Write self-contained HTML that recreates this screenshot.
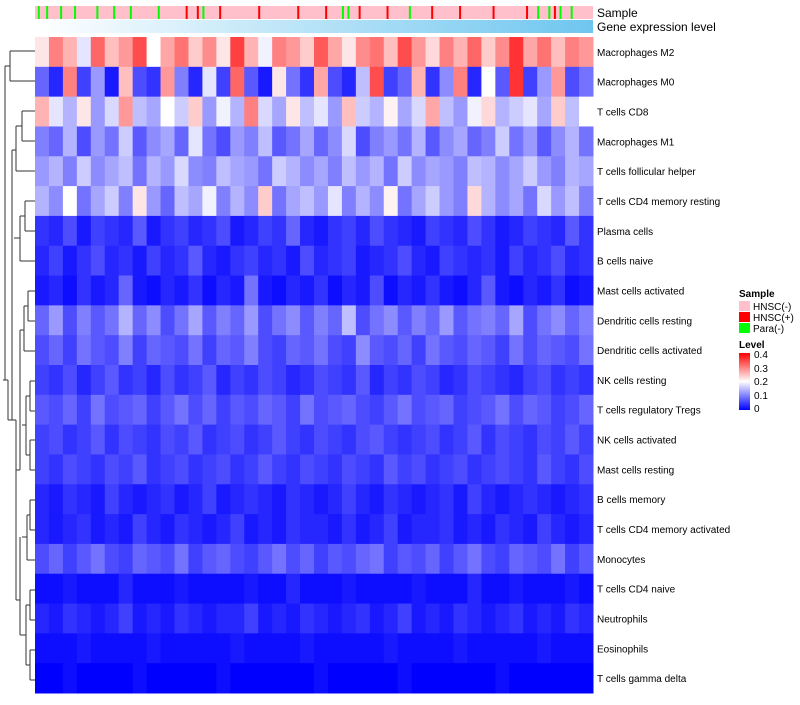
<!DOCTYPE html>
<html><head><meta charset="utf-8"><style>
body{margin:0;background:#fff;font-family:"Liberation Sans",sans-serif}
svg text{font-family:"Liberation Sans",sans-serif}
</style></head><body>
<svg id="chart" width="800" height="700" xmlns="http://www.w3.org/2000/svg">
<defs>
<linearGradient id="geneGrad" x1="0" x2="1"><stop offset="0" stop-color="#ffffff"/><stop offset="1" stop-color="#6ec6ef"/></linearGradient>
<linearGradient id="levelGrad" x1="0" y1="1" x2="0" y2="0"><stop offset="0" stop-color="#0000ff"/><stop offset="0.5" stop-color="#ffffff"/><stop offset="1" stop-color="#ff0000"/></linearGradient>
</defs>
<g id="dendro" stroke="#333" stroke-width="1" fill="none">
<path d="M10 51 H35 M10 81 H35 M10 51 V81 M5 66 H10 M5 66 V380 M3 380 H5"/>
<path d="M22 111 H35 M22 141 H35 M22 111 V141 M16 126 H22 M16 171 H35 M16 126 V171 M12 150 H16"/>
<path d="M25 201 H35 M25 231 H35 M25 201 V231 M20 216 H25 M20 261 H35 M20 216 V261 M14 238 H20 M12 150 V420 M8 420 H12 M8 420 V380 M5 380 H8"/>
<path d="M28 291 H35 M28 321 H35 M28 291 V321 M24 306 H28 M24 351 H35 M24 306 V351 M20 330 H24 M20 330 V470 M16 470 H20 M16 420 V600 M12 420 H16"/>
<path d="M30 381 H35 M30 411 H35 M30 381 V411 M26 396 H30 M30 440 H35 M30 470 H35 M30 440 V470 M26 455 H30 M26 396 V455 M22 425 H26"/>
<path d="M30 500 H35 M30 530 H35 M30 500 V530 M27 515 H30 M27 560 H35 M27 515 V560 M22 537 H27"/>
<path d="M30 590 H35 M30 620 H35 M30 590 V620 M26 605 H30 M30 650 H35 M30 680 H35 M30 650 V680 M26 665 H30 M26 605 V665 M20 635 H26 M20 635 V537 M16 600 H20"/>
</g>
<g id="cells"></g>
<g id="annot"></g>
<rect x="35" y="20" width="558" height="13" fill="url(#geneGrad)"/>
<text x="597" y="17" font-size="12">Sample</text>
<text x="597" y="31" font-size="12">Gene expression level</text>
<g id="labels" font-size="10"></g>
<g font-size="10">
<text x="739" y="297" font-weight="bold">Sample</text>
<rect x="739" y="301" width="11" height="10" fill="#ffc0cb"/><text x="753" y="310">HNSC(-)</text>
<rect x="739" y="312" width="11" height="10" fill="#ff0000"/><text x="753" y="321">HNSC(+)</text>
<rect x="739" y="323" width="11" height="10" fill="#00ff00"/><text x="753" y="332">Para(-)</text>
<text x="739" y="348" font-weight="bold">Level</text>
<rect x="739" y="353" width="11" height="57" fill="url(#levelGrad)"/>
<text x="754" y="358">0.4</text><text x="754" y="372">0.3</text><text x="754" y="385">0.2</text><text x="754" y="399">0.1</text><text x="754" y="412">0</text>
</g>
</svg>
<script>
const rowNames=["Macrophages M2","Macrophages M0","T cells CD8","Macrophages M1","T cells follicular helper","T cells CD4 memory resting","Plasma cells","B cells naive","Mast cells activated","Dendritic cells resting","Dendritic cells activated","NK cells resting","T cells regulatory  Tregs","NK cells activated","Mast cells resting","B cells memory","T cells CD4 memory activated","Monocytes","T cells CD4 naive","Neutrophils","Eosinophils","T cells gamma delta"];
const values=[
[22,30,26,18,32,25,28,34,20,27,31,24,29,22,35,26,19,30,28,24,33,27,22,29,31,25,34,28,23,30,26,32,24,29,36,27,31,25,30,28],
[8,3,30,5,12,2,25,6,4,28,10,3,18,5,32,7,2,22,9,4,27,6,3,15,34,5,8,26,4,11,30,3,20,7,36,5,12,28,6,9],
[26,18,14,22,12,17,28,15,13,20,16,24,12,19,14,30,17,13,22,15,18,12,25,16,14,21,13,17,27,15,12,19,23,14,16,18,13,24,15,20],
[10,8,14,6,12,9,16,7,11,13,8,18,9,6,12,10,15,7,9,13,8,11,17,6,10,12,9,14,7,11,13,8,10,16,9,12,7,11,14,9],
[12,14,10,16,11,13,15,9,14,12,17,11,10,15,13,12,9,16,14,11,13,10,15,12,14,9,16,11,13,12,10,15,14,11,13,16,12,10,14,13],
[14,11,20,9,13,16,10,22,12,8,15,13,19,10,14,11,24,9,13,15,12,18,10,14,11,21,9,13,16,12,10,23,14,11,13,9,17,12,15,10],
[4,3,6,2,5,4,3,7,2,4,5,3,4,6,2,3,5,4,8,3,2,4,5,3,6,4,3,2,5,4,3,6,4,2,3,5,4,3,7,4],
[3,5,2,4,6,3,4,2,5,3,4,7,3,2,4,5,3,4,2,6,3,4,5,2,3,4,6,3,2,5,4,3,4,2,5,3,4,6,3,4],
[2,3,1,4,2,3,8,2,1,3,2,4,1,3,2,9,2,1,3,2,4,1,3,2,6,1,3,2,4,2,1,3,7,2,1,3,2,4,1,2],
[8,12,6,10,7,9,14,8,11,6,9,13,7,10,8,12,6,9,11,7,10,8,15,6,9,11,7,10,8,12,7,9,10,8,13,6,9,11,8,10],
[6,8,5,9,7,6,10,5,8,7,6,9,5,8,7,10,6,5,8,7,9,6,5,11,7,6,8,5,9,7,6,8,7,5,9,6,8,7,6,9],
[5,4,6,3,5,7,4,5,3,6,4,5,7,3,5,4,6,5,3,4,6,5,4,7,3,5,4,6,5,3,4,6,5,4,3,5,6,4,5,4],
[7,6,8,5,9,6,7,8,5,7,9,6,8,5,7,6,8,7,5,9,6,7,8,6,5,7,9,6,7,8,5,6,7,9,6,8,7,5,6,8],
[5,6,4,5,7,4,6,5,4,6,5,7,4,5,6,4,5,7,5,4,6,5,4,6,7,5,4,5,6,4,5,7,4,6,5,4,6,5,7,5],
[5,4,6,5,4,6,5,7,4,5,6,4,5,6,4,5,7,5,4,6,5,4,6,5,4,7,5,6,4,5,6,4,5,6,5,4,7,5,4,6],
[3,2,4,3,2,5,3,2,3,4,2,3,5,2,3,4,3,2,4,3,2,3,5,3,2,4,3,2,3,4,2,5,3,2,3,4,3,2,3,4],
[3,2,3,4,2,3,2,5,3,2,4,3,2,3,5,2,3,2,4,3,3,2,4,2,3,5,2,3,3,4,2,3,2,4,3,2,5,3,2,3],
[6,8,5,7,9,6,5,8,7,6,9,5,7,8,6,5,7,9,6,8,5,7,6,8,9,5,7,6,8,5,7,9,6,5,8,7,6,9,5,7],
[1,1,2,1,1,1,3,1,1,1,2,1,1,1,1,2,1,1,3,1,1,1,2,1,1,1,1,2,1,1,1,3,1,1,2,1,1,1,2,1],
[3,2,4,3,2,3,5,2,3,2,4,3,2,3,3,5,2,3,2,4,3,2,3,4,2,3,5,2,3,2,4,3,2,3,4,2,3,2,4,3],
[1,1,1,2,1,1,1,1,2,1,1,1,1,1,2,1,1,1,1,2,1,1,1,1,1,2,1,1,1,1,2,1,1,1,1,1,2,1,1,1],
[0,0,1,0,0,0,0,1,0,0,0,0,0,1,0,0,0,0,0,0,1,0,0,0,0,0,1,0,0,0,0,0,0,1,0,0,0,0,0,0]];
const redSamples=[0.27,0.29,0.33,0.4,0.47,0.52,0.58,0.63,0.71,0.76,0.82,0.88,0.93];
const greenSamples=[0.005,0.02,0.045,0.07,0.11,0.14,0.17,0.22,0.3,0.55,0.56,0.67,0.9,0.92,0.94,0.96];
const X0=35,X1=593,Y0=37,Y1=693;
const rowH=(Y1-Y0)/rowNames.length;
const nCols=values[0].length,colW=(X1-X0)/nCols;
function xScale(i){return X0+i*colW;}
function yScale(r){return Y0+r*rowH;}
function color(v){v=Math.max(0,Math.min(0.4,v));let r,g,b;
 if(v<0.2){const t=v/0.2;r=Math.round(255*t);g=r;b=255;}else{const t=(v-0.2)/0.2;r=255;g=Math.round(255*(1-t));b=g;}
 return `rgb(${r},${g},${b})`;}
const NS="http://www.w3.org/2000/svg";
const cells=document.getElementById('cells');
values.forEach((row,r)=>row.forEach((v,c)=>{
 const el=document.createElementNS(NS,'rect');
 el.setAttribute('x',xScale(c));el.setAttribute('y',yScale(r));
 el.setAttribute('width',colW+0.5);el.setAttribute('height',rowH+0.5);
 el.setAttribute('fill',color(v/100));
 
 
 cells.appendChild(el);}));
const annot=document.getElementById('annot');
const bg=document.createElementNS(NS,'rect');
bg.setAttribute('x',X0);bg.setAttribute('y',6);bg.setAttribute('width',X1-X0);bg.setAttribute('height',13);bg.setAttribute('fill','#ffc0cb');


annot.appendChild(bg);
function addLine(f,col,name){const el=document.createElementNS(NS,'rect');
 el.setAttribute('x',X0+f*(X1-X0));el.setAttribute('y',6);el.setAttribute('width',2);el.setAttribute('height',13);el.setAttribute('fill',col);
 
 
 annot.appendChild(el);}
redSamples.forEach(f=>addLine(f,'#ff0000','sample-hnsc-pos'));
greenSamples.forEach(f=>addLine(f,'#00ff00','sample-para-neg'));
const labels=document.getElementById('labels');
rowNames.forEach((n,r)=>{const t=document.createElementNS(NS,'text');
 t.setAttribute('x',597);t.setAttribute('y',yScale(r)+rowH/2+4);t.textContent=n;
 
 
 labels.appendChild(t);});
</script>
</body></html>
